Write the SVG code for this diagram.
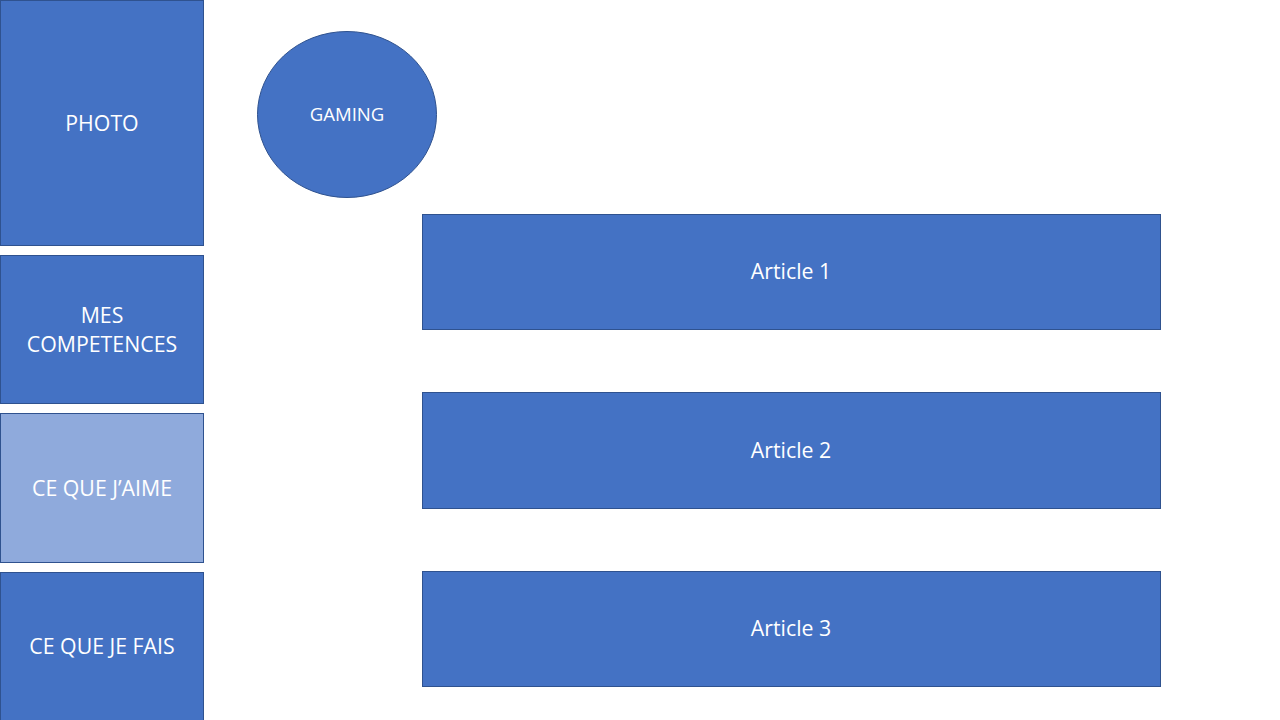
<svg xmlns="http://www.w3.org/2000/svg" width="1280" height="720" viewBox="0 0 1280 720">
<style>
.n{fill:#4472C4;stroke:#2F528F;stroke-width:1}
.l{fill:#8FAADC;stroke:#2F528F;stroke-width:1}
.t{fill:#FFFFFF;font-family:"Open Sans","Noto Sans",sans-serif;font-size:21.3px;text-anchor:middle;dominant-baseline:central}
.s{font-size:18.6px}
</style>
<rect width="1280" height="720" fill="#FFFFFF"/>
<g id="photo"><rect class="n" x="0.5" y="0.5" width="203" height="245"/><text class="t" x="102" y="122">PHOTO</text></g>
<g id="competences"><rect class="n" x="0.5" y="255.5" width="203" height="148"/><text class="t" x="102" y="314">MES</text><text class="t" x="102" y="343">COMPETENCES</text></g>
<g id="aime"><rect class="l" x="0.5" y="413.5" width="203" height="149"/><text class="t" x="102" y="487">CE QUE J’AIME</text></g>
<g id="fais"><rect class="n" x="0.5" y="572.5" width="203" height="150"/><text class="t" x="102" y="645">CE QUE JE FAIS</text></g>
<g id="gaming"><ellipse class="n" cx="347" cy="114.5" rx="89.5" ry="83"/><text class="t s" x="347" y="113">GAMING</text></g>
<g id="article1"><rect class="n" x="422.5" y="214.5" width="738" height="115"/><text class="t" x="791" y="270">Article 1</text></g>
<g id="article2"><rect class="n" x="422.5" y="392.5" width="738" height="116"/><text class="t" x="791" y="449">Article 2</text></g>
<g id="article3"><rect class="n" x="422.5" y="571.5" width="738" height="115"/><text class="t" x="791" y="627">Article 3</text></g>
<g id="connectors"></g>
</svg>
